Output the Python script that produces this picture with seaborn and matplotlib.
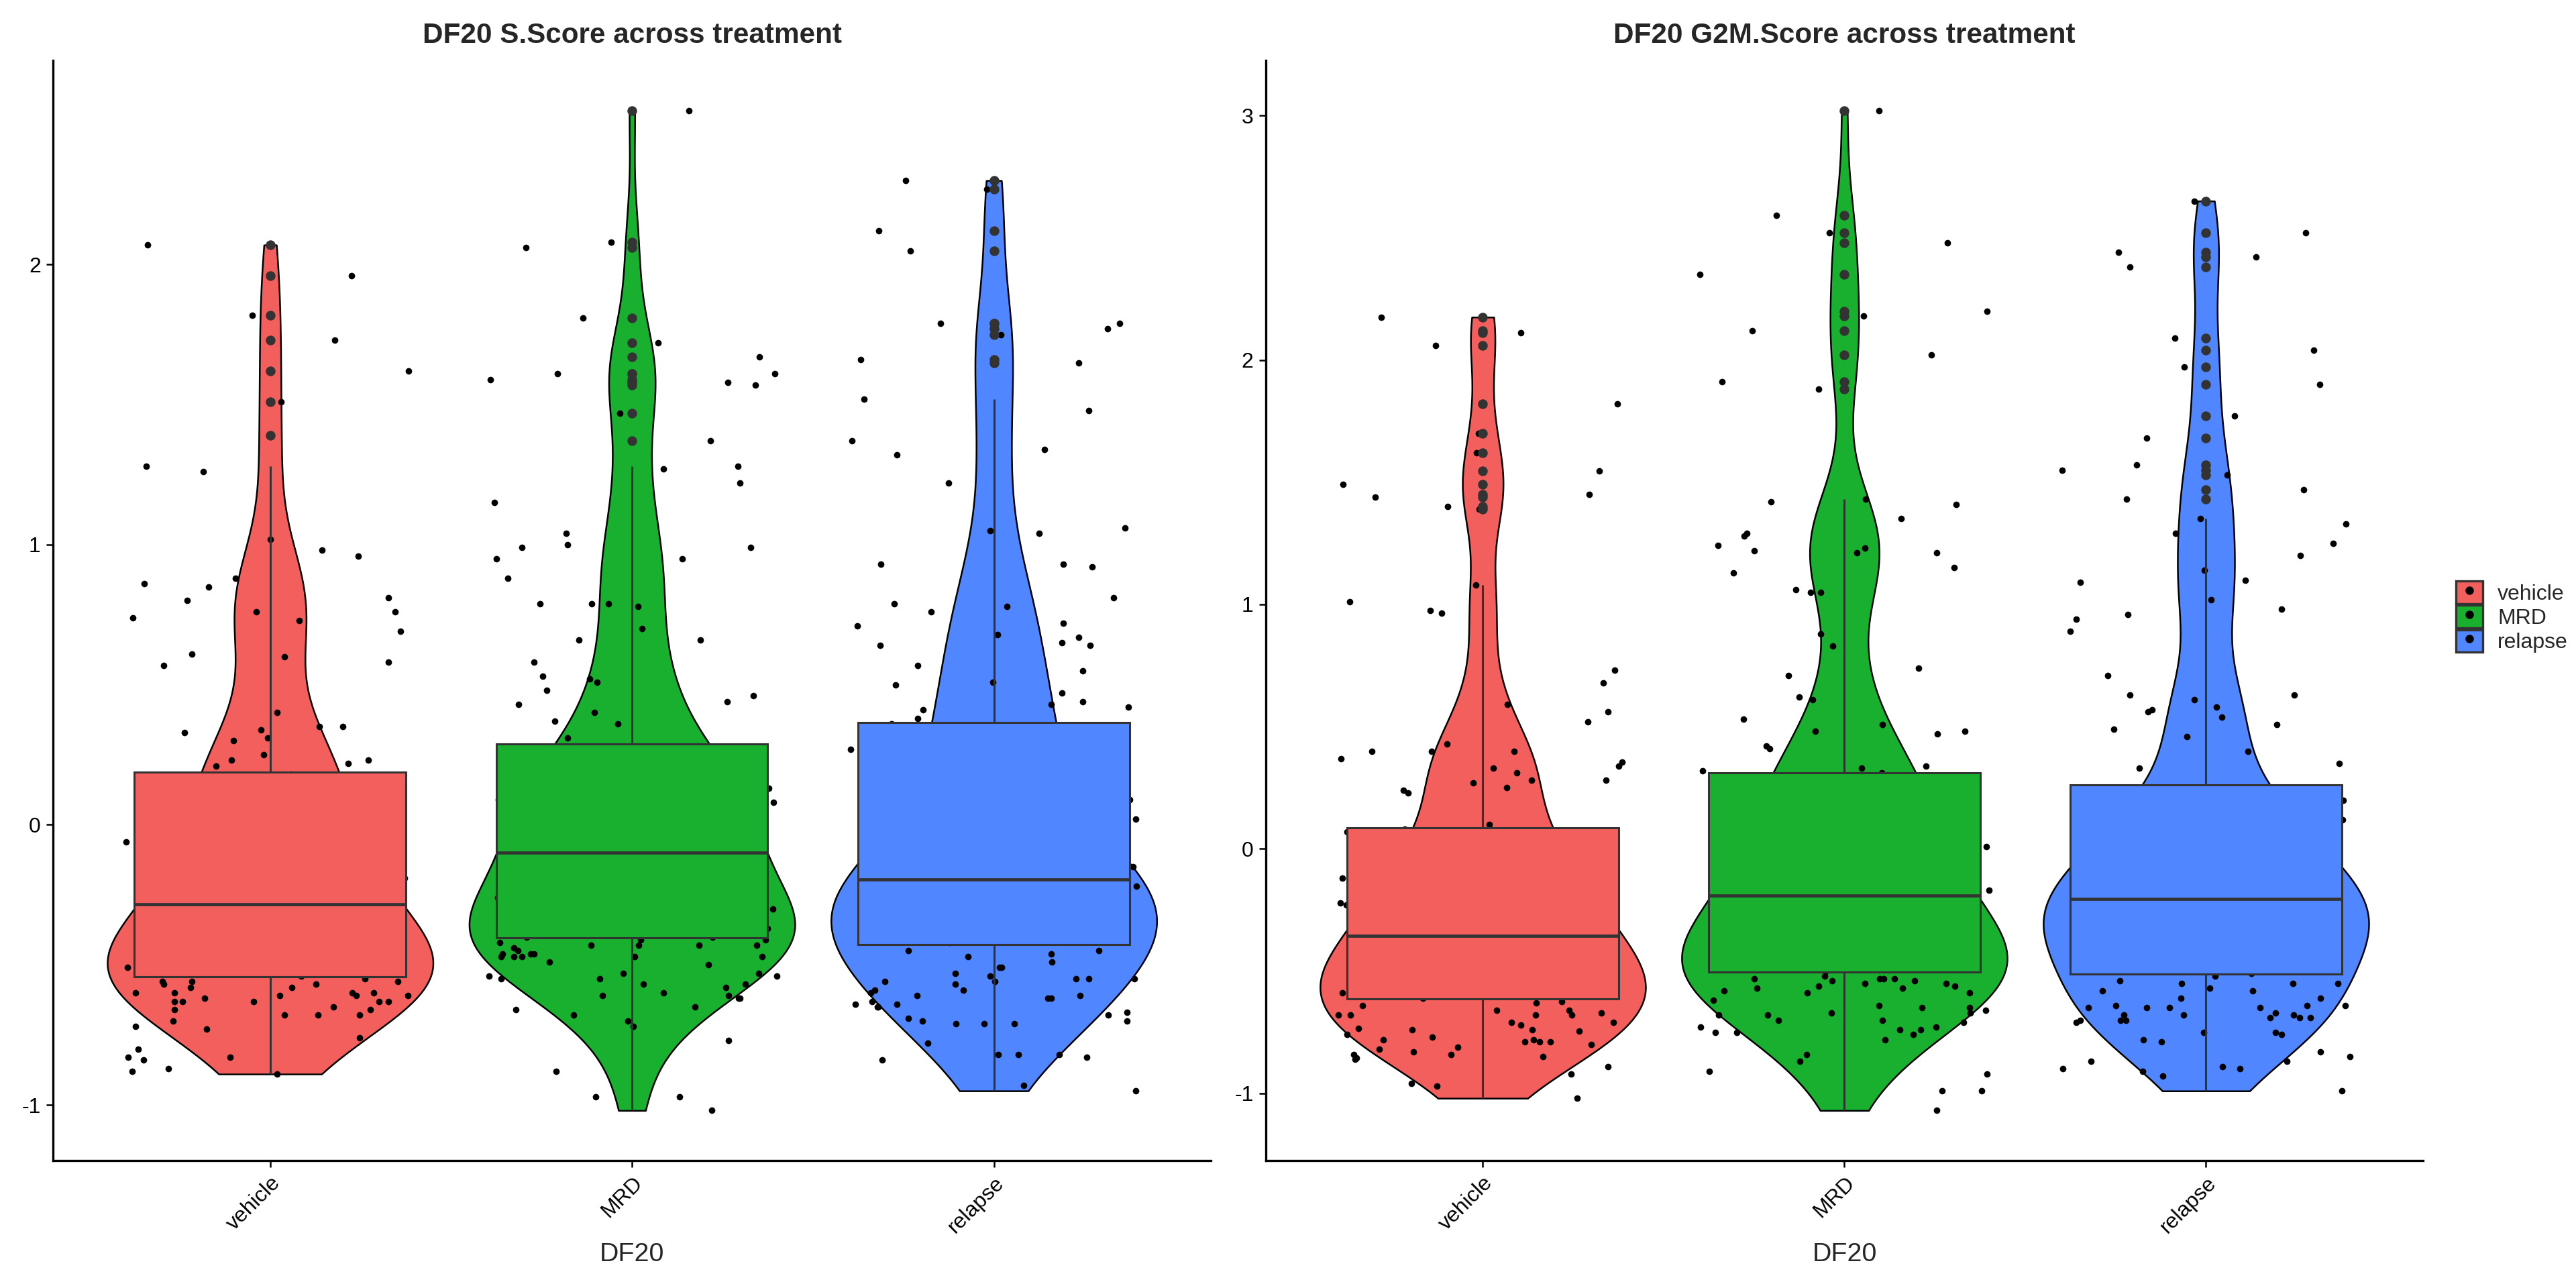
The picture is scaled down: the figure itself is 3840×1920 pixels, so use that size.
import numpy as np
import pandas as pd
import matplotlib
matplotlib.use("Agg")
import matplotlib.pyplot as plt
import seaborn as sns
from matplotlib.patches import Patch
from matplotlib.lines import Line2D

GROUPS = ["vehicle", "MRD", "relapse"]
COLORS = {"vehicle": "#F25F5C", "MRD": "#18B02E", "relapse": "#5086FF"}

# ---------------------------------------------------------------------------
# S.Score per cell (values inside the box are estimated)
# ---------------------------------------------------------------------------
s_vehicle = [
    # above box
    2.07, 1.96, 1.82, 1.73, 1.62, 1.51, 1.39, 1.28, 1.26, 1.02, 0.98, 0.96, 0.88,
    0.86, 0.85, 0.81, 0.80, 0.76, 0.76, 0.74, 0.73, 0.69, 0.61, 0.60, 0.58, 0.57,
    0.40, 0.35, 0.35, 0.34, 0.33, 0.31, 0.30, 0.25, 0.23, 0.23, 0.22, 0.21,
    # inside box
    0.18, 0.17, 0.16, 0.15, 0.14, 0.12, 0.11, 0.09, 0.08, 0.06, 0.04, 0.03, 0.01,
    0.00, -0.02, -0.04, -0.05, -0.06, -0.08, -0.09, -0.10, -0.11, -0.13, -0.14,
    -0.15, -0.16, -0.17, -0.18, -0.19, -0.20, -0.21, -0.22, -0.23, -0.24, -0.25,
    -0.26, -0.27, -0.28, -0.29, -0.30, -0.31, -0.32, -0.33, -0.34, -0.35, -0.36,
    -0.37, -0.38, -0.39, -0.40, -0.41, -0.41, -0.42, -0.43, -0.43, -0.44, -0.44,
    -0.45, -0.45, -0.46, -0.46, -0.47, -0.47, -0.48, -0.48, -0.49, -0.49, -0.50,
    -0.50, -0.51, -0.51, -0.52, -0.52, -0.53, -0.53, -0.54,
    # below box
    -0.55, -0.56, -0.56, -0.56, -0.57, -0.57, -0.58, -0.58, -0.60, -0.60, -0.60,
    -0.60, -0.61, -0.61, -0.61, -0.62, -0.63, -0.63, -0.63, -0.63, -0.63, -0.65,
    -0.66, -0.66, -0.68, -0.68, -0.68, -0.70, -0.72, -0.73, -0.76, -0.80, -0.83,
    -0.83, -0.84, -0.87, -0.88, -0.89,
]
s_mrd = [
    2.55, 2.08, 2.06, 1.81, 1.72, 1.67, 1.61, 1.61, 1.59, 1.58, 1.57, 1.47, 1.37,
    1.28, 1.27, 1.22, 1.15, 1.04, 1.00, 0.99, 0.99, 0.95, 0.95, 0.88, 0.79, 0.79,
    0.79, 0.78, 0.70, 0.66, 0.66, 0.58, 0.53, 0.52, 0.51, 0.48, 0.46, 0.44, 0.43,
    0.40, 0.37, 0.36, 0.31,
    0.28, 0.27, 0.26, 0.25, 0.24, 0.23, 0.22, 0.21, 0.20, 0.19, 0.18, 0.17, 0.16,
    0.15, 0.14, 0.13, 0.12, 0.11, 0.10, 0.09, 0.08, 0.07, 0.06, 0.06, 0.05, 0.04,
    0.03, 0.02, 0.02, 0.01, 0.00, -0.01, -0.02, -0.03, -0.04, -0.05, -0.05, -0.06,
    -0.07, -0.08, -0.08, -0.09, -0.10,
    -0.10, -0.11, -0.12, -0.13, -0.14, -0.15, -0.16, -0.17, -0.18, -0.19, -0.20,
    -0.21, -0.22, -0.23, -0.24, -0.25, -0.26, -0.27, -0.28, -0.28, -0.29, -0.30,
    -0.30, -0.31, -0.31, -0.32, -0.32, -0.33, -0.33, -0.34, -0.34, -0.35, -0.35,
    -0.36, -0.36, -0.37, -0.37, -0.38, -0.38, -0.39, -0.39, -0.40, -0.40,
    -0.41, -0.41, -0.42, -0.43, -0.43, -0.43, -0.43, -0.44, -0.45, -0.46, -0.46,
    -0.46, -0.47, -0.47, -0.47, -0.47, -0.47, -0.49, -0.50, -0.53, -0.53, -0.54,
    -0.54, -0.55, -0.55, -0.57, -0.57, -0.58, -0.60, -0.61, -0.61, -0.62, -0.62,
    -0.65, -0.66, -0.68, -0.70, -0.72, -0.77, -0.88, -0.97, -0.97, -1.02,
]
s_relapse = [
    2.30, 2.27, 2.12, 2.05, 1.79, 1.79, 1.77, 1.75, 1.66, 1.65, 1.52, 1.48, 1.37,
    1.34, 1.32, 1.22, 1.06, 1.05, 1.04, 0.93, 0.93, 0.92, 0.81, 0.79, 0.78, 0.76,
    0.72, 0.71, 0.68, 0.67, 0.65, 0.64, 0.64, 0.57, 0.55, 0.51, 0.50, 0.47, 0.44,
    0.43, 0.42, 0.41, 0.38,
    0.36, 0.35, 0.34, 0.33, 0.31, 0.29, 0.27, 0.25, 0.23, 0.21, 0.19, 0.17, 0.15,
    0.14, 0.12, 0.10, 0.09, 0.07, 0.06, 0.04, 0.03, 0.02, 0.00, -0.01, -0.03,
    -0.04, -0.05, -0.06, -0.07, -0.08, -0.09, -0.10, -0.11, -0.12, -0.13, -0.14,
    -0.15, -0.15, -0.16, -0.17, -0.17, -0.18, -0.19,
    -0.20, -0.21, -0.22, -0.22, -0.23, -0.24, -0.25, -0.25, -0.26, -0.27, -0.27,
    -0.28, -0.29, -0.29, -0.30, -0.30, -0.31, -0.31, -0.32, -0.32, -0.32, -0.33,
    -0.33, -0.33, -0.34, -0.34, -0.34, -0.35, -0.35, -0.35, -0.36, -0.36, -0.37,
    -0.37, -0.38, -0.38, -0.39, -0.39, -0.40, -0.40, -0.41, -0.41, -0.42,
    -0.45, -0.45, -0.46, -0.47, -0.49, -0.51, -0.51, -0.53, -0.54, -0.55, -0.55,
    -0.55, -0.56, -0.56, -0.57, -0.59, -0.59, -0.60, -0.61, -0.61, -0.62, -0.62,
    -0.63, -0.64, -0.64, -0.65, -0.65, -0.67, -0.68, -0.69, -0.70, -0.70, -0.71,
    -0.71, -0.71, -0.78, -0.82, -0.82, -0.82, -0.83, -0.84, -0.93, -0.95,
]

# ---------------------------------------------------------------------------
# G2M.Score per cell
# ---------------------------------------------------------------------------
g_vehicle = [
    2.175, 2.12, 2.11, 2.06, 1.82, 1.70, 1.62, 1.545, 1.49, 1.45, 1.44, 1.40, 1.39,
    1.08, 1.01, 0.975, 0.965, 0.73, 0.68, 0.59, 0.56, 0.52, 0.43, 0.40, 0.40, 0.40,
    0.37, 0.355, 0.34, 0.33, 0.31, 0.28, 0.28, 0.27, 0.25, 0.24, 0.23, 0.10,
    0.08, 0.07, 0.06, 0.05, 0.04, 0.03, 0.02, 0.00, -0.01, -0.03, -0.04, -0.06,
    -0.07, -0.09, -0.11, -0.12, -0.13, -0.15, -0.16, -0.17, -0.18, -0.19, -0.20,
    -0.21, -0.22, -0.23, -0.24, -0.25, -0.26, -0.27, -0.28, -0.29, -0.30, -0.31,
    -0.32, -0.33, -0.34, -0.35,
    -0.36, -0.36, -0.37, -0.38, -0.39, -0.40, -0.41, -0.42, -0.43, -0.44, -0.44,
    -0.45, -0.46, -0.47, -0.48, -0.49, -0.50, -0.51, -0.51, -0.52, -0.52, -0.53,
    -0.53, -0.54, -0.54, -0.55, -0.55, -0.56, -0.56, -0.57, -0.57, -0.58, -0.58,
    -0.59, -0.59, -0.60, -0.60, -0.61,
    -0.625, -0.63, -0.64, -0.66, -0.66, -0.67, -0.68, -0.68, -0.68, -0.68, -0.71,
    -0.71, -0.72, -0.735, -0.74, -0.74, -0.745, -0.76, -0.77, -0.78, -0.78, -0.79,
    -0.79, -0.79, -0.80, -0.81, -0.82, -0.83, -0.84, -0.84, -0.85, -0.855, -0.86,
    -0.89, -0.92, -0.96, -0.97, -1.02,
]
g_mrd = [
    3.02, 2.59, 2.52, 2.48, 2.35, 2.20, 2.18, 2.12, 2.02, 1.91, 1.88, 1.43, 1.42,
    1.41, 1.35, 1.29, 1.28, 1.24, 1.23, 1.22, 1.21, 1.21, 1.15, 1.13, 1.06, 1.05,
    1.05, 0.88, 0.83, 0.74, 0.71, 0.62, 0.61, 0.53, 0.51, 0.48, 0.48, 0.47, 0.42,
    0.41, 0.34, 0.33, 0.32,
    0.31, 0.30, 0.29, 0.28, 0.27, 0.26, 0.25, 0.23, 0.22, 0.20, 0.19, 0.17, 0.16,
    0.14, 0.13, 0.11, 0.10, 0.08, 0.07, 0.05, 0.04, 0.03, 0.01, 0.00, -0.01, -0.02,
    -0.03, -0.04, -0.05, -0.06, -0.07, -0.08, -0.09, -0.10, -0.11, -0.12, -0.13,
    -0.14, -0.15, -0.16, -0.17, -0.18, -0.19,
    -0.19, -0.21, -0.22, -0.24, -0.25, -0.26, -0.27, -0.28, -0.28, -0.29, -0.30,
    -0.31, -0.32, -0.33, -0.34, -0.35, -0.36, -0.37, -0.38, -0.38, -0.39, -0.39,
    -0.40, -0.40, -0.41, -0.41, -0.42, -0.42, -0.43, -0.43, -0.44, -0.44, -0.45,
    -0.45, -0.46, -0.46, -0.47, -0.47, -0.48, -0.48, -0.49, -0.49, -0.50,
    -0.52, -0.53, -0.53, -0.53, -0.53, -0.54, -0.54, -0.55, -0.55, -0.56, -0.56,
    -0.57, -0.57, -0.58, -0.59, -0.59, -0.62, -0.64, -0.65, -0.65, -0.66, -0.67,
    -0.67, -0.68, -0.68, -0.70, -0.70, -0.71, -0.73, -0.73, -0.74, -0.74, -0.75,
    -0.75, -0.76, -0.78, -0.84, -0.87, -0.91, -0.92, -0.99, -0.99, -1.07,
]
g_relapse = [
    2.65, 2.52, 2.44, 2.42, 2.38, 2.09, 2.04, 1.97, 1.90, 1.77, 1.68, 1.57, 1.55,
    1.53, 1.47, 1.43, 1.35, 1.33, 1.29, 1.25, 1.20, 1.14, 1.10, 1.09, 1.02, 0.98,
    0.96, 0.94, 0.89, 0.71, 0.63, 0.63, 0.61, 0.58, 0.57, 0.56, 0.54, 0.51, 0.49,
    0.46, 0.40, 0.35, 0.33,
    0.24, 0.23, 0.22, 0.21, 0.20, 0.18, 0.17, 0.15, 0.14, 0.12, 0.11, 0.09, 0.08,
    0.07, 0.05, 0.04, 0.03, 0.02, 0.01, 0.00, -0.01, -0.02, -0.03, -0.04, -0.05,
    -0.06, -0.07, -0.07, -0.08, -0.09, -0.10, -0.11, -0.12, -0.13, -0.14, -0.15,
    -0.16, -0.17, -0.18, -0.19, -0.19, -0.20, -0.20,
    -0.21, -0.22, -0.23, -0.24, -0.24, -0.25, -0.25, -0.26, -0.26, -0.27, -0.27,
    -0.28, -0.28, -0.29, -0.29, -0.30, -0.30, -0.31, -0.31, -0.32, -0.32, -0.33,
    -0.33, -0.34, -0.34, -0.35, -0.35, -0.36, -0.37, -0.38, -0.39, -0.40, -0.41,
    -0.42, -0.43, -0.44, -0.45, -0.46, -0.47, -0.48, -0.49, -0.50, -0.51,
    -0.52, -0.54, -0.55, -0.55, -0.55, -0.57, -0.58, -0.58, -0.61, -0.61, -0.64,
    -0.64, -0.64, -0.65, -0.65, -0.65, -0.65, -0.67, -0.68, -0.68, -0.68, -0.69,
    -0.69, -0.69, -0.70, -0.70, -0.70, -0.71, -0.75, -0.75, -0.76, -0.78, -0.79,
    -0.83, -0.85, -0.87, -0.87, -0.89, -0.90, -0.90, -0.91, -0.93, -0.99,
]

sns.set_theme(style="ticks")
plt.rcParams["font.family"] = ["Liberation Sans", "DejaVu Sans"]
plt.rcParams["axes.unicode_minus"] = False


def build(values):
    return pd.DataFrame({
        "group": np.repeat(GROUPS, [len(v) for v in values]),
        "score": np.concatenate([np.asarray(v, dtype=float) for v in values]),
    })


def nrd0(kde):
    # R's default bandwidth (bw.nrd0), expressed as a gaussian_kde factor
    x = kde.dataset.ravel()
    sd = x.std(ddof=1)
    q75, q25 = np.percentile(x, [75, 25])
    lo = min(sd, (q75 - q25) / 1.34)
    return 0.9 * lo * len(x) ** -0.2 / sd


def vln_panel(ax, df, title):
    sns.violinplot(data=df, x="group", y="score", hue="group", order=GROUPS,
                   hue_order=GROUPS, palette=COLORS, saturation=1,
                   density_norm="width", cut=0, bw_method=nrd0, gridsize=512,
                   width=0.9, inner=None, linecolor="black", linewidth=0.9,
                   legend=False, ax=ax)
    sns.stripplot(data=df, x="group", y="score", order=GROUPS, color="black",
                  size=3.5, jitter=0.4, linewidth=0, zorder=2, ax=ax)
    sns.boxplot(data=df, x="group", y="score", hue="group", order=GROUPS,
                hue_order=GROUPS, palette=COLORS, saturation=1, width=0.75,
                whis=1.5, showcaps=False, linecolor="#333333", linewidth=1.1,
                fliersize=4.2,
                flierprops={"marker": "o", "markerfacecolor": "#333333",
                            "markeredgecolor": "#333333"},
                medianprops={"linewidth": 1.7},
                legend=False, zorder=3, ax=ax)
    lo, hi = df["score"].min(), df["score"].max()
    pad = 0.05 * (hi - lo)
    ax.set_ylim(lo - pad, hi + pad)
    ax.set_xlim(-0.6, 2.6)
    ax.set_title(title, fontsize=15.2, fontweight="bold", pad=9.5)
    ax.set_xlabel("DF20", fontsize=14.2, labelpad=3)
    ax.set_ylabel("")
    sns.despine(ax=ax)
    for side in ["left", "bottom"]:
        ax.spines[side].set_linewidth(1.2)
        ax.spines[side].set_color("black")
    ax.tick_params(axis="both", labelsize=11.5, length=3.6, width=0.9,
                   color="black", labelcolor="black", pad=3)
    plt.setp(ax.get_xticklabels(), rotation=45, ha="right",
             rotation_mode="anchor")


np.random.seed(7)
s_df = build([s_vehicle, s_mrd, s_relapse])
g_df = build([g_vehicle, g_mrd, g_relapse])

fig = plt.figure(figsize=(19.2, 9.6), dpi=200)
ax1 = fig.add_axes([0.0206, 0.099, 0.4495, 0.854])
ax2 = fig.add_axes([0.4914, 0.099, 0.4492, 0.854])

vln_panel(ax1, s_df, "DF20 S.Score across treatment")
ax1.set_yticks([-1, 0, 1, 2])
vln_panel(ax2, g_df, "DF20 G2M.Score across treatment")
ax2.set_yticks([-1, 0, 1, 2, 3])

handles = [
    (Patch(facecolor=COLORS[g], edgecolor="#333333", linewidth=1.2),
     Line2D([], [], marker="o", color="black", linestyle="none", markersize=3.5))
    for g in GROUPS
]
fig.legend(handles, GROUPS, loc="center left", bbox_to_anchor=(0.9458, 0.521),
           frameon=False, fontsize=11.5, handlelength=1.25, handleheight=1.25,
           labelspacing=0.05, handletextpad=0.7)

fig.savefig("out.png", dpi=200)
